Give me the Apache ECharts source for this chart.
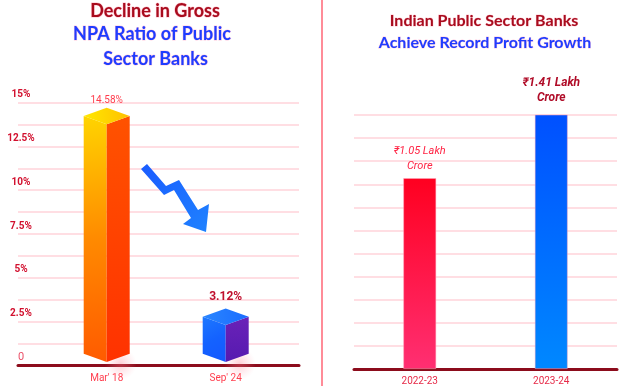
<!DOCTYPE html>
<html>
<head>
<meta charset="utf-8">
<script src="https://cdn.jsdelivr.net/npm/echarts@6/dist/echarts.min.js"></script>
<style>html,body{margin:0;padding:0;background:#fff}#c{width:633px;height:386px}</style>
</head>
<body>
<div id="c"></div>
<script>
// ---- data ----
const npaCategories = ["Mar' 18", "Sep' 24"];
const npaValues = [14.58, 3.12];
const npaLabels = ['14.58%', '3.12%'];
const npaTickLabels = {0: '0', 2.5: '2.5%', 5: '5%', 7.5: '7.5%', 10: '10%', 12.5: '12.5%', 15: '15%'};
const profitCategories = ['2022-23', '2023-24'];
const profitValues = [1.05, 1.41];
const profitLabels = ['₹1.05 Lakh\nCrore', '₹1.41 Lakh\nCrore'];

// ---- styles ----
const FONT = 'Lato';
const prismPalettes = [
  {left: ['#ffd400', '#ff8a00', '#ff5a00'], right: ['#ff5200', '#ff3200'], top: ['#ffe800', '#ffc000'],
   label: {fill: '#ff3d4d', font: '400 10px Roboto', gap: 7}},
  {left: ['#1e78ff', '#1462ff', '#1458ff'], right: ['#6a22b8', '#561ab0'], top: ['#2a86ff', '#1a6cff'],
   label: {fill: '#c0102e', font: '700 12px Roboto', gap: 11}}
];
const profitColors = [
  ['#ff0020', '#ff2f72'],
  ['#0050ff', '#0088ff']
];
const profitLabelStyles = [
  {color: '#ff2444', fontSize: 11, fontStyle: 'italic', fontWeight: 400, lineHeight: 15, distance: 4},
  {color: '#b00c28', fontSize: 12, fontStyle: 'italic', fontWeight: 700, lineHeight: 15, distance: 9}
];

function lin(x0, y0, x1, y1, stops) {
  return new echarts.graphic.LinearGradient(x0, y0, x1, y1,
    stops.map((c, i) => ({offset: i / (stops.length - 1), color: c})));
}

function renderPrism(params, api) {
  const idx = params.dataIndex;
  const top = api.coord([api.value(0), api.value(1)]);
  const base = api.coord([api.value(0), 0]);
  const cx = top[0];
  const hw = 23, hd = 8.3;
  const yc = top[1] + 6;
  const yb = base[1] - 11.5;
  const p = prismPalettes[idx];
  return {
    type: 'group',
    children: [
      {type: 'ellipse', shape: {cx: cx + 14, cy: yb + 10, rx: 48, ry: 16},
       style: {fill: new echarts.graphic.RadialGradient(0.5, 0.5, 0.5,
         [{offset: 0, color: 'rgba(255,120,140,0.35)'}, {offset: 1, color: 'rgba(255,160,175,0)'}])},
       silent: true},
      {type: 'polygon', shape: {points: [[cx - hw, yc], [cx, yc + hd], [cx, yb + hd], [cx - hw, yb]]},
       style: {fill: lin(0, 0, 1, 1, p.left)}},
      {type: 'polygon', shape: {points: [[cx, yc + hd], [cx + hw, yc], [cx + hw, yb], [cx, yb + hd]]},
       style: {fill: lin(0, 0, 0, 1, p.right)}},
      {type: 'polygon', shape: {points: [[cx, yc - hd], [cx + hw, yc], [cx, yc + hd], [cx - hw, yc]]},
       style: {fill: lin(0, 0, 1, 0, p.top)}},
      {type: 'text', x: cx, y: yc - hd - p.label.gap,
       style: {text: npaLabels[idx], fill: p.label.fill, font: p.label.font, align: 'center', verticalAlign: 'middle'}}
    ]
  };
}

const chart = echarts.init(document.getElementById('c'), null, {renderer: 'canvas'});

const gridLine = {show: true, lineStyle: {color: '#ffd3da', width: 1.5}};
const axisBase = {lineStyle: {color: '#8c0c1c', width: 3}};

const option = {
  backgroundColor: '#ffffff',
  animation: false,
  grid: [
    {left: 18, right: 334, top: 102.7, bottom: 20.7},
    {left: 47.2, right: 347.8, top: 102.7, bottom: 20.7},
    {left: 354, right: 16, top: 115, bottom: 17}
  ],
  xAxis: [
    {gridIndex: 0, type: 'category', data: [''], axisLine: {show: true, ...axisBase},
     axisTick: {show: false}, axisLabel: {show: false}},
    {gridIndex: 1, type: 'category', data: npaCategories, axisLine: {show: false}, axisTick: {show: false},
     axisLabel: {color: '#ff3d4d', fontSize: 10, fontFamily: 'Roboto', margin: 8}},
    {gridIndex: 2, type: 'category', data: profitCategories, axisLine: {show: true, ...axisBase},
     axisTick: {show: false},
     axisLabel: {color: '#e62a48', fontSize: 10, fontFamily: 'Roboto', margin: 7}}
  ],
  yAxis: [
    {gridIndex: 0, type: 'value', min: 0, max: 15, interval: 1.25, splitLine: gridLine,
     axisLine: {show: false}, axisTick: {show: false},
     axisLabel: {
       margin: -3, align: 'center', verticalAlign: 'bottom', lineHeight: 12, padding: [0, 0, 2, 0],
       color: '#d2102e', fontSize: 10, fontWeight: 700, fontFamily: 'Roboto',
       formatter: v => {
         const t = npaTickLabels[v];
         if (t === undefined) return '';
         return v === 0 ? '{z|' + t + '}' : t;
       },
       rich: {z: {color: '#ea5068', fontWeight: 400, fontSize: 11, fontFamily: 'Roboto', lineHeight: 12}}
     }},
    {gridIndex: 1, type: 'value', min: 0, max: 15, show: false, splitLine: {show: false}},
    {gridIndex: 2, type: 'value', min: 0, max: 1.397, interval: 0.127, splitLine: gridLine,
     axisLine: {show: false}, axisTick: {show: false}, axisLabel: {show: false}}
  ],
  series: [
    {type: 'custom', xAxisIndex: 1, yAxisIndex: 1, renderItem: renderPrism,
     data: npaValues.map((v, i) => [i, v]), encode: {x: 0, y: 1}},
    {type: 'bar', xAxisIndex: 2, yAxisIndex: 2, barWidth: 33,
     data: profitValues.map((v, i) => ({
       value: v,
       itemStyle: {color: lin(0, 0, 0, 1, profitColors[i]), borderColor: 'rgba(255,170,190,0.6)', borderWidth: 0.8},
       label: {show: true, position: 'top', formatter: profitLabels[i], fontFamily: 'Roboto', ...profitLabelStyles[i]}
     }))}
  ],
  graphic: [
    {type: 'line', shape: {x1: 322, y1: 0, x2: 322, y2: 386}, style: {stroke: '#ff6676', lineWidth: 1.5}, z: 10},
    {type: 'polygon', z: 5,
     shape: {points: [[147, 164], [166, 186], [179, 180], [198, 210], [209, 204], [206, 232], [183, 224], [191, 218], [174, 190], [164, 195], [141, 169]]},
     style: {fill: lin(0, 0, 1, 1, ['#1a5cff', '#1f82ff'])}},
    {type: 'text', x: 155, y: 11, z: 10, style: {text: 'Decline in Gross', fill: '#a80c1e', font: '700 18px ' + FONT, align: 'center', verticalAlign: 'middle', stroke: 'rgba(255,150,170,0.6)', lineWidth: 1}},
    {type: 'text', x: 152, y: 34, z: 10, style: {text: 'NPA Ratio of Public', fill: '#1f3cff', font: '700 18px ' + FONT, align: 'center', verticalAlign: 'middle', stroke: 'rgba(255,150,190,0.5)', lineWidth: 1}},
    {type: 'text', x: 155.5, y: 59, z: 10, style: {text: 'Sector Banks', fill: '#1f3cff', font: '700 18px ' + FONT, align: 'center', verticalAlign: 'middle', stroke: 'rgba(255,150,190,0.5)', lineWidth: 1}},
    {type: 'text', x: 484, y: 21, z: 10, style: {text: 'Indian Public Sector Banks', fill: '#a80c1e', font: '700 16px ' + FONT, align: 'center', verticalAlign: 'middle', stroke: 'rgba(255,150,170,0.5)', lineWidth: 0.8}},
    {type: 'text', x: 485, y: 43, z: 10, style: {text: 'Achieve Record Profit Growth', fill: '#1f3cff', font: '700 16px ' + FONT, align: 'center', verticalAlign: 'middle', stroke: 'rgba(255,150,190,0.5)', lineWidth: 0.8}}
  ]
};
chart.setOption(option);
</script>
</body>
</html>
